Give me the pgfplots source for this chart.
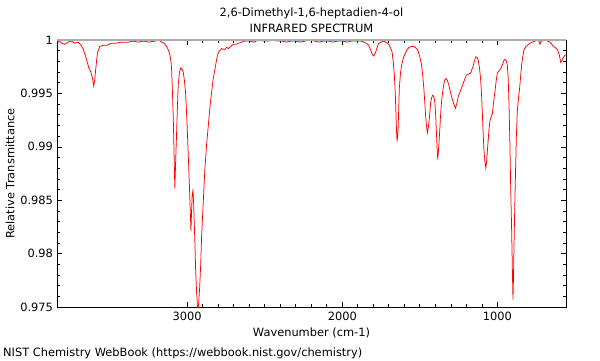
\documentclass[border=0pt]{standalone}
\usepackage{fontspec}
\setmainfont{DejaVu Sans}
\usepackage{pgfplots}
\pgfplotsset{compat=1.18}
\pgfplotstableread{
w T
3840 0.9997
3825 0.9999
3810 0.9997
3790 0.9996
3770 0.9998
3747 0.9999
3725 0.9997
3705 0.9998
3690 0.9996
3672 0.9992
3660 0.9987
3650 0.9982
3635 0.9974
3622 0.9970
3612 0.9965
3603 0.9957
3597 0.9962
3592 0.9970
3585 0.9980
3579 0.9988
3564 0.9994
3543 0.9995
3520 0.9995
3489 0.9997
3460 0.9997
3424 0.9998
3380 0.9998
3350 0.9999
3317 0.9998
3280 0.9999
3250 0.9998
3209 0.9999
3185 1.0000
3166 0.9998
3150 0.9997
3133 0.9994
3120 0.9990
3112 0.9986
3105 0.9980
3101 0.9973
3095 0.9950
3090 0.9927
3085 0.9895
3080 0.9861
3075 0.9885
3069 0.9911
3063 0.9938
3058 0.9958
3050 0.9970
3041 0.9974
3034 0.9973
3026 0.9970
3018 0.9962
3010 0.9949
3002 0.9925
2994 0.9895
2985 0.9860
2976 0.9821
2972 0.9840
2968 0.9855
2963 0.9859
2959 0.9848
2955 0.9830
2950 0.9808
2946 0.9786
2940 0.9765
2933 0.9748
2927 0.9752
2920 0.9768
2913 0.9790
2907 0.9817
2896 0.9850
2886 0.9880
2875 0.9902
2864 0.9920
2853 0.9938
2842 0.9952
2832 0.9964
2821 0.9973
2810 0.9982
2800 0.9988
2790 0.9990
2778 0.9992
2760 0.9991
2745 0.9993
2735 0.9992
2720 0.9994
2703 0.9996
2685 0.9996
2670 0.9997
2650 0.9998
2627 0.9999
2600 0.9999
2570 0.9998
2540 1.0000
2510 0.9999
2480 0.9999
2450 1.0000
2420 0.9999
2390 0.9999
2360 0.9998
2330 0.9999
2300 0.9999
2270 0.9998
2240 0.9999
2210 1.0000
2180 0.9999
2150 0.9998
2120 0.9999
2090 0.9999
2060 0.9998
2030 0.9999
2000 0.9999
1970 0.9998
1940 0.9999
1910 0.9999
1880 0.9999
1860 0.9998
1845 0.9997
1830 0.9995
1820 0.9992
1813 0.9989
1805 0.9986
1797 0.9985
1790 0.9987
1782 0.9990
1773 0.9994
1765 0.9997
1750 0.9998
1733 0.9999
1720 0.9998
1710 0.9997
1700 0.9996
1690 0.9993
1679 0.9989
1670 0.9978
1664 0.9967
1658 0.9950
1653 0.9927
1650 0.9915
1647 0.9905
1643 0.9910
1640 0.9917
1636 0.9935
1632 0.9955
1625 0.9968
1619 0.9975
1610 0.9981
1604 0.9984
1595 0.9987
1582 0.9991
1570 0.9993
1554 0.9994
1540 0.9994
1528 0.9993
1515 0.9991
1507 0.9988
1498 0.9983
1489 0.9977
1480 0.9965
1474 0.9955
1468 0.9942
1463 0.9930
1457 0.9920
1451 0.9913
1445 0.9918
1438 0.9927
1431 0.9940
1425 0.9945
1419 0.9948
1414 0.9948
1408 0.9946
1403 0.9942
1397 0.9928
1392 0.9911
1388 0.9898
1384 0.9888
1379 0.9898
1373 0.9911
1367 0.9927
1360 0.9942
1352 0.9952
1345 0.9959
1338 0.9963
1330 0.9964
1322 0.9962
1313 0.9958
1302 0.9951
1291 0.9945
1280 0.9940
1270 0.9936
1262 0.9940
1252 0.9947
1242 0.9951
1231 0.9955
1223 0.9958
1216 0.9961
1208 0.9964
1200 0.9967
1185 0.9968
1173 0.9969
1165 0.9972
1157 0.9975
1148 0.9980
1140 0.9984
1132 0.9984
1123 0.9981
1115 0.9974
1108 0.9964
1102 0.9950
1097 0.9933
1092 0.9915
1087 0.9899
1080 0.9886
1074 0.9880
1068 0.9888
1061 0.9902
1055 0.9914
1048 0.9924
1040 0.9928
1032 0.9931
1024 0.9942
1015 0.9952
1008 0.9961
1000 0.9969
990 0.9971
979 0.9973
970 0.9976
964 0.9978
957 0.9981
951 0.9982
944 0.9981
936 0.9977
930 0.9965
925 0.9942
919 0.9905
914 0.9864
908 0.9825
903 0.9786
899 0.9757
896 0.9775
893 0.9802
888 0.9840
882 0.9880
877 0.9910
871 0.9933
864 0.9945
856 0.9955
849 0.9967
843 0.9977
835 0.9985
828 0.9991
815 0.9994
806 0.9995
790 0.9997
774 0.9998
757 0.9999
741 1.0000
732 0.9999
725 0.9996
717 0.9999
709 0.9999
693 1.0000
677 0.9999
660 0.9998
644 0.9995
628 0.9993
612 0.9991
600 0.9986
591 0.9979
583 0.9981
576 0.9983
563 0.9986
550 0.9986
}\spectrum
\begin{document}
\fontsize{11.4}{13}\selectfont
\begin{tikzpicture}[x=1pt,y=1pt]
\useasboundingbox (0,0) rectangle (600,360);
\begin{axis}[
  name=ax,
  at={(57pt,53pt)}, anchor=south west,
  scale only axis, width=509pt, height=267pt,
  x dir=reverse,
  xmin=557, xmax=3840, ymin=0.975, ymax=1,
  xtick={1000,2000,3000},
  minor x tick num=9,
  ytick={0.975,0.98,0.985,0.99,0.995,1},
  yticklabels={0.975,0.98,0.985,0.99,0.995,1},
  xticklabels={1000,2000,3000},
  minor y tick num=4,
  tick align=inside,
  major tick length=5pt, minor tick length=2.7pt,
  tick style={black, line width=0.6pt},
  axis line style={black, line width=0.8pt},
  font=\fontsize{11.4}{13}\selectfont,
  xticklabel style={yshift=-1pt},
  xlabel={Wavenumber (cm-1)},
  xlabel style={at={(axis description cs:0.5,-0.112)}, anchor=base},
  ylabel={Relative Transmittance},
  ylabel style={at={(axis description cs:-0.092,0.5)}, anchor=center},
  title={2,6-Dimethyl-1,6-heptadien-4-ol\\[3pt]INFRARED SPECTRUM},
  title style={align=center, at={(axis description cs:0.5,1)}, anchor=south, yshift=-3pt, font=\fontsize{11.4}{13}\selectfont},
]
\addplot[red, line width=0.75pt, no marks] table[x=w, y=T] {\spectrum};
\end{axis}
\draw[gray!65, line width=1.6pt] (ax.north west) -- (ax.north east);
\node[anchor=base west, inner sep=0pt] at (3,4) {NIST Chemistry WebBook (https://webbook.nist.gov/chemistry)};
\end{tikzpicture}
\end{document}
